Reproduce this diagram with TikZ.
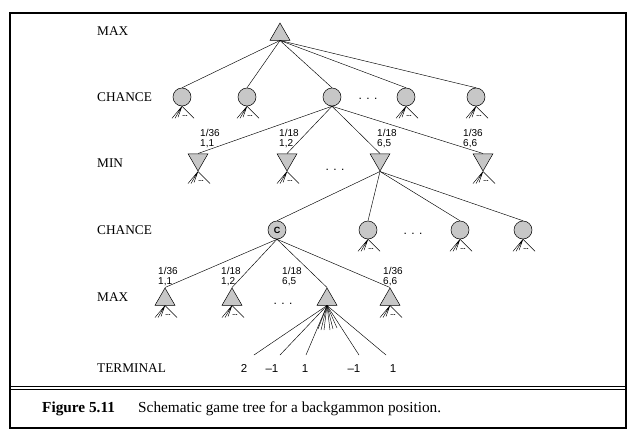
\documentclass[tikz,border=0pt]{standalone}
\usepackage{fontspec}
\setmainfont{Liberation Serif}
\setsansfont{Liberation Sans}
\usetikzlibrary{shapes.geometric}

% little fan of cut-off branches below a node
\newcommand{\stubs}[1]{%
  \draw[edge] (#1) -- ++(-10,12) (#1) -- ++(-7,12) (#1) -- ++(-4,11) (#1) -- ++(12,12);
  \path (#1) ++(3,9.5) node[smalldots] {...};}

\begin{document}
\begin{tikzpicture}[x=1pt, y=-1pt,
maxnode/.style={draw, regular polygon, regular polygon sides=3, minimum size=23pt, inner sep=0pt, fill=black!22, line width=0.5pt},
minnode/.style={maxnode, shape border rotate=180},
chance/.style={draw, circle, minimum size=18pt, inner sep=0pt, fill=black!22, line width=0.5pt},
edge/.style={line width=0.45pt},
level/.style={anchor=west, inner sep=0pt, font=\fontsize{13.3}{13.3}\selectfont},
prob/.style={anchor=north west, inner sep=0pt, align=left, font=\sffamily\fontsize{10}{10}\selectfont},
value/.style={anchor=base, inner sep=0pt, font=\sffamily\fontsize{11.5}{11.5}\selectfont},
bigdots/.style={anchor=base, inner sep=0pt, font=\sffamily\fontsize{12}{12}\selectfont},
smalldots/.style={inner sep=0pt, font=\sffamily\bfseries\fontsize{6.5}{6.5}\selectfont}
]
\useasboundingbox (0,0) rectangle (641,434);

% frame and caption
\draw[line width=1.1pt] (10,13) rectangle (626,428);
\draw[line width=0.8pt] (10,386) -- (626,386) (10,389) -- (626,389);
\node[anchor=base west, inner sep=0pt, font=\bfseries\fontsize{15.3}{15.3}\selectfont] (fig) at (42,412) {Figure 5.11};
\node[anchor=base west, inner sep=0pt, font=\fontsize{15.3}{15.3}\selectfont] (cap) at (138,412) {Schematic game tree for a backgammon position.};

% level names
\node[level] (lmax) at (97,31) {MAX};
\node[level] (lch) at (97,97) {CHANCE};
\node[level] (lmin) at (97,163) {MIN};
\node[level] (lch2) at (97,230) {CHANCE};
\node[level] (lmax2) at (97,297) {MAX};
\node[level] (lterm) at (97,368) {TERMINAL};

% top MAX node and first chance row
\node[maxnode] (root) at (280,34.5) {};
\node[chance] (c1) at (182,97) {};
\node[chance] (c2) at (247,97) {};
\node[chance] (c3) at (332,97) {};
\node[chance] (c4) at (406,97) {};
\node[chance] (c5) at (476,97) {};
\node[bigdots] (d1) at (368,99) {. . .};
\foreach \c in {c1,c2,c3,c4,c5}
  \draw[edge] (root.south) -- (\c.north);
\stubs{c1.south} \stubs{c2.south} \stubs{c4.south} \stubs{c5.south}

% MIN row
\node[minnode] (m1) at (198,159.5) {};
\node[minnode] (m2) at (287,159.5) {};
\node[minnode] (m3) at (380,159.5) {};
\node[minnode] (m4) at (483,159.5) {};
\node[bigdots] (d2) at (335,170) {. . .};
\foreach \m in {m1,m2,m3,m4}
  \draw[edge] (c3.south) -- (\m.north);
\node[prob] (p1) at (200,129.5) {1/36\\1,1};
\node[prob] (p2) at (279,129.5) {1/18\\1,2};
\node[prob] (p3) at (377,129.5) {1/18\\6,5};
\node[prob] (p4) at (463,129.5) {1/36\\6,6};
\stubs{m1.south} \stubs{m2.south} \stubs{m4.south}

% second chance row
\node[chance] (cc) at (277,230) {\sffamily\bfseries\fontsize{9}{9}\selectfont C};
\node[chance] (e2) at (368,230) {};
\node[chance] (e3) at (460,230) {};
\node[chance] (e4) at (523,230) {};
\node[bigdots] (d3) at (413,234) {. . .};
\foreach \e in {cc,e2,e3,e4}
  \draw[edge] (m3.south) -- (\e.north);
\stubs{e2.south} \stubs{e3.south} \stubs{e4.south}

% second MAX row
\node[maxnode] (a1) at (165,299.5) {};
\node[maxnode] (a2) at (232,299.5) {};
\node[maxnode] (a3) at (327,299.5) {};
\node[maxnode] (a4) at (390,299.5) {};
\node[bigdots] (d4) at (283,304) {. . .};
\foreach \a in {a1,a2,a3,a4}
  \draw[edge] (cc.south) -- (\a.north);
\node[prob] (q1) at (158,267.5) {1/36\\1,1};
\node[prob] (q2) at (221,267.5) {1/18\\1,2};
\node[prob] (q3) at (282,267.5) {1/18\\6,5};
\node[prob] (q4) at (383,267.5) {1/36\\6,6};
\stubs{a1.south} \stubs{a2.south} \stubs{a4.south}

% terminal branches
\coordinate (t1) at (254,355);
\coordinate (t2) at (280,355);
\coordinate (t3) at (306,355);
\coordinate (t4) at (359,355);
\coordinate (t5) at (386,355);
\foreach \t in {t1,t2,t3,t4,t5}
  \draw[edge] (a3.south) -- (\t);
\foreach \x/\y in {318/329,321/330,324/330,330/330,333/329,337/328}
  \draw[edge] (a3.south) -- (\x,\y);
\node[value] (v1) at (244,372.5) {2};
\node[value] (v2) at (272,372.5) {\textendash1};
\node[value] (v3) at (305,372.5) {1};
\node[value] (v4) at (354,372.5) {\textendash1};
\node[value] (v5) at (393,372.5) {1};
\end{tikzpicture}
\end{document}
